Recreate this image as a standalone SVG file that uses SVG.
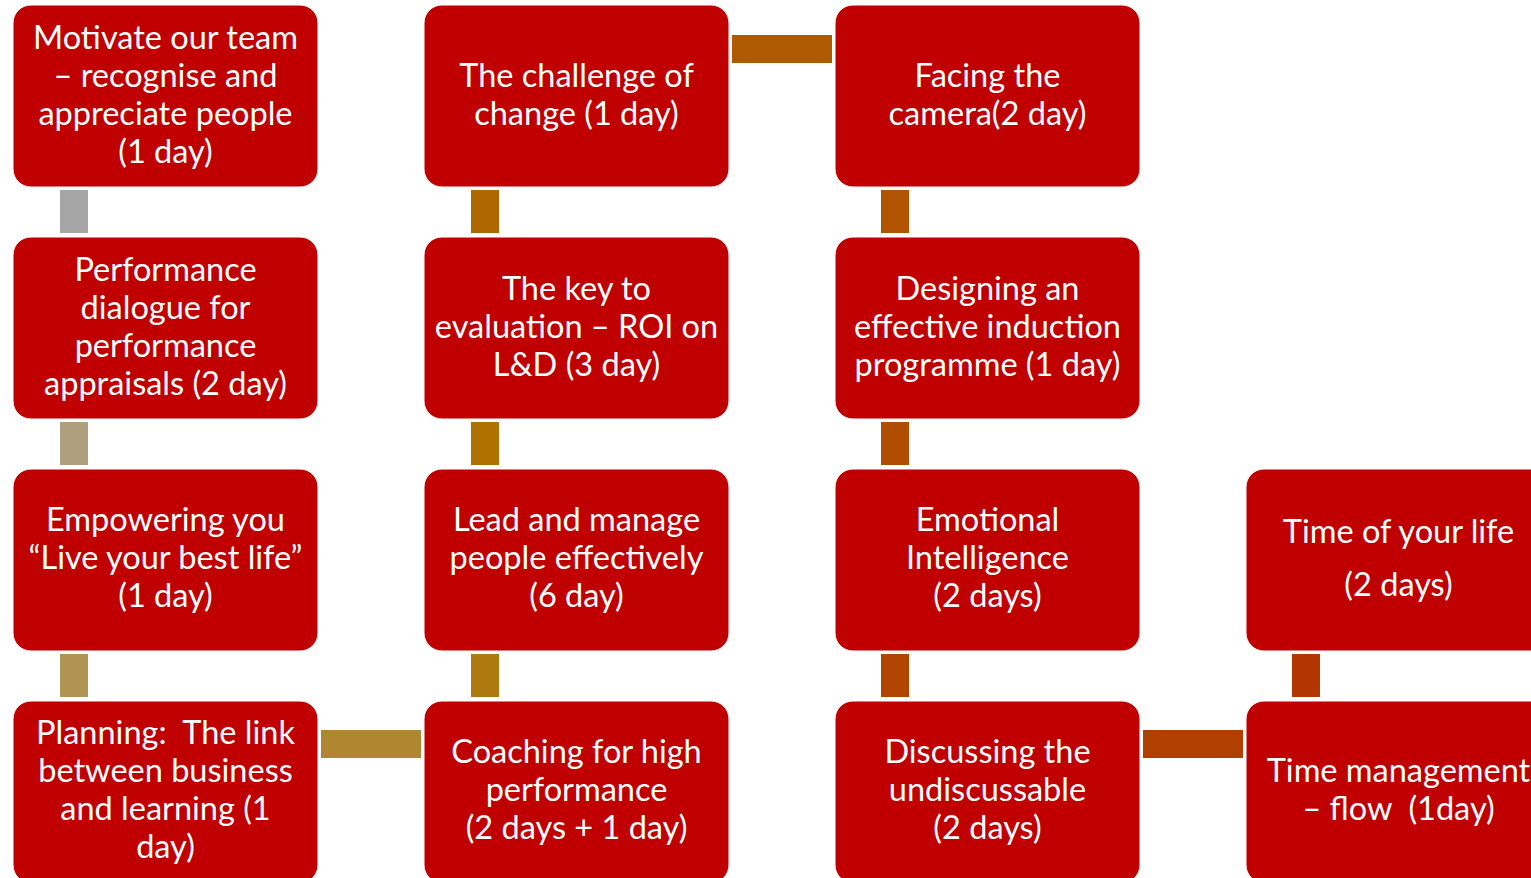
<svg xmlns="http://www.w3.org/2000/svg" width="1531" height="878" viewBox="0 0 1531 878">
<style>
.box{fill:#C00000;stroke:#ffffff;stroke-width:1}
.t{font-family:Lato,"Open Sans",sans-serif;font-size:32.5px;fill:#ffffff;text-anchor:middle;white-space:pre}
</style>
<rect width="1531" height="878" fill="#ffffff"/>
<g id="connectors">
<rect x="60" y="190" width="28" height="43" fill="#A5A5A5"/>
<rect x="60" y="422" width="28" height="43" fill="#AE9F7E"/>
<rect x="60" y="654" width="28" height="43" fill="#B09552"/>
<rect x="321" y="730" width="100" height="28" fill="#B08731"/>
<rect x="471" y="654" width="28" height="43" fill="#AE7A10"/>
<rect x="471" y="422" width="28" height="43" fill="#AF7100"/>
<rect x="471" y="190" width="28" height="43" fill="#AF6800"/>
<rect x="732" y="35" width="100" height="28" fill="#B05A00"/>
<rect x="881" y="190" width="28" height="43" fill="#B05400"/>
<rect x="881" y="422" width="28" height="43" fill="#B04D00"/>
<rect x="881" y="654" width="28" height="43" fill="#B04600"/>
<rect x="1143" y="730" width="100" height="28" fill="#B03F00"/>
<rect x="1292" y="654" width="28" height="43" fill="#B23600"/>
</g>
<g id="n1"><rect class="box" x="13" y="5" width="305" height="182" rx="18"/>
<text class="t"><tspan x="165.5" y="48.5">Motivate our team</tspan><tspan x="165.5" y="86.5">– recognise and</tspan><tspan x="165.5" y="124.5">appreciate people</tspan><tspan x="165.5" y="162.5">(1 day)</tspan></text></g>
<g id="n2"><rect class="box" x="13" y="237" width="305" height="182" rx="18"/>
<text class="t"><tspan x="165.5" y="280.5">Performance</tspan><tspan x="165.5" y="318.5">dialogue for</tspan><tspan x="165.5" y="356.5">performance</tspan><tspan x="165.5" y="394.5">appraisals (2 day)</tspan></text></g>
<g id="n3"><rect class="box" x="13" y="469" width="305" height="182" rx="18"/>
<text class="t"><tspan x="165.5" y="531">Empowering you</tspan><tspan x="165.5" y="569">“Live your best life”</tspan><tspan x="165.5" y="607">(1 day)</tspan></text></g>
<g id="n4"><rect class="box" x="13" y="701" width="305" height="182" rx="18"/>
<text class="t" xml:space="preserve"><tspan x="165.5" y="743.5">Planning:  The link</tspan><tspan x="165.5" y="781.5">between business</tspan><tspan x="165.5" y="819.5">and learning (1</tspan><tspan x="165.5" y="857.5">day)</tspan></text></g>
<g id="n5"><rect class="box" x="424" y="701" width="305" height="182" rx="18"/>
<text class="t"><tspan x="576.5" y="762.5">Coaching for high</tspan><tspan x="576.5" y="800.5">performance</tspan><tspan x="576.5" y="838.5">(2 days + 1 day)</tspan></text></g>
<g id="n6"><rect class="box" x="424" y="469" width="305" height="182" rx="18"/>
<text class="t"><tspan x="576.5" y="531">Lead and manage</tspan><tspan x="576.5" y="569">people effectively</tspan><tspan x="576.5" y="607">(6 day)</tspan></text></g>
<g id="n7"><rect class="box" x="424" y="237" width="305" height="182" rx="18"/>
<text class="t"><tspan x="576.5" y="300">The key to</tspan><tspan x="576.5" y="338">evaluation – ROI on</tspan><tspan x="576.5" y="376">L&amp;D (3 day)</tspan></text></g>
<g id="n8"><rect class="box" x="424" y="5" width="305" height="182" rx="18"/>
<text class="t"><tspan x="576.5" y="86.5">The challenge of</tspan><tspan x="576.5" y="124.5">change (1 day)</tspan></text></g>
<g id="n9"><rect class="box" x="835" y="5" width="305" height="182" rx="18"/>
<text class="t"><tspan x="987.5" y="86.5">Facing the</tspan><tspan x="987.5" y="124.5">camera(2 day)</tspan></text></g>
<g id="n10"><rect class="box" x="835" y="237" width="305" height="182" rx="18"/>
<text class="t"><tspan x="987.5" y="300">Designing an</tspan><tspan x="987.5" y="338">effective induction</tspan><tspan x="987.5" y="376">programme (1 day)</tspan></text></g>
<g id="n11"><rect class="box" x="835" y="469" width="305" height="182" rx="18"/>
<text class="t"><tspan x="987.5" y="531">Emotional</tspan><tspan x="987.5" y="569">Intelligence</tspan><tspan x="987.5" y="607">(2 days)</tspan></text></g>
<g id="n12"><rect class="box" x="835" y="701" width="305" height="182" rx="18"/>
<text class="t"><tspan x="987.5" y="762.5">Discussing the</tspan><tspan x="987.5" y="800.5">undiscussable</tspan><tspan x="987.5" y="838.5">(2 days)</tspan></text></g>
<g id="n13"><rect class="box" x="1246" y="701" width="305" height="182" rx="18"/>
<text class="t" xml:space="preserve"><tspan x="1398.5" y="782">Time management</tspan><tspan x="1398.5" y="820">– flow  (1day)</tspan></text></g>
<g id="n14"><rect class="box" x="1246" y="469" width="305" height="182" rx="18"/>
<text class="t"><tspan x="1398.5" y="543">Time of your life</tspan><tspan x="1398.5" y="596">(2 days)</tspan></text></g>
</svg>
